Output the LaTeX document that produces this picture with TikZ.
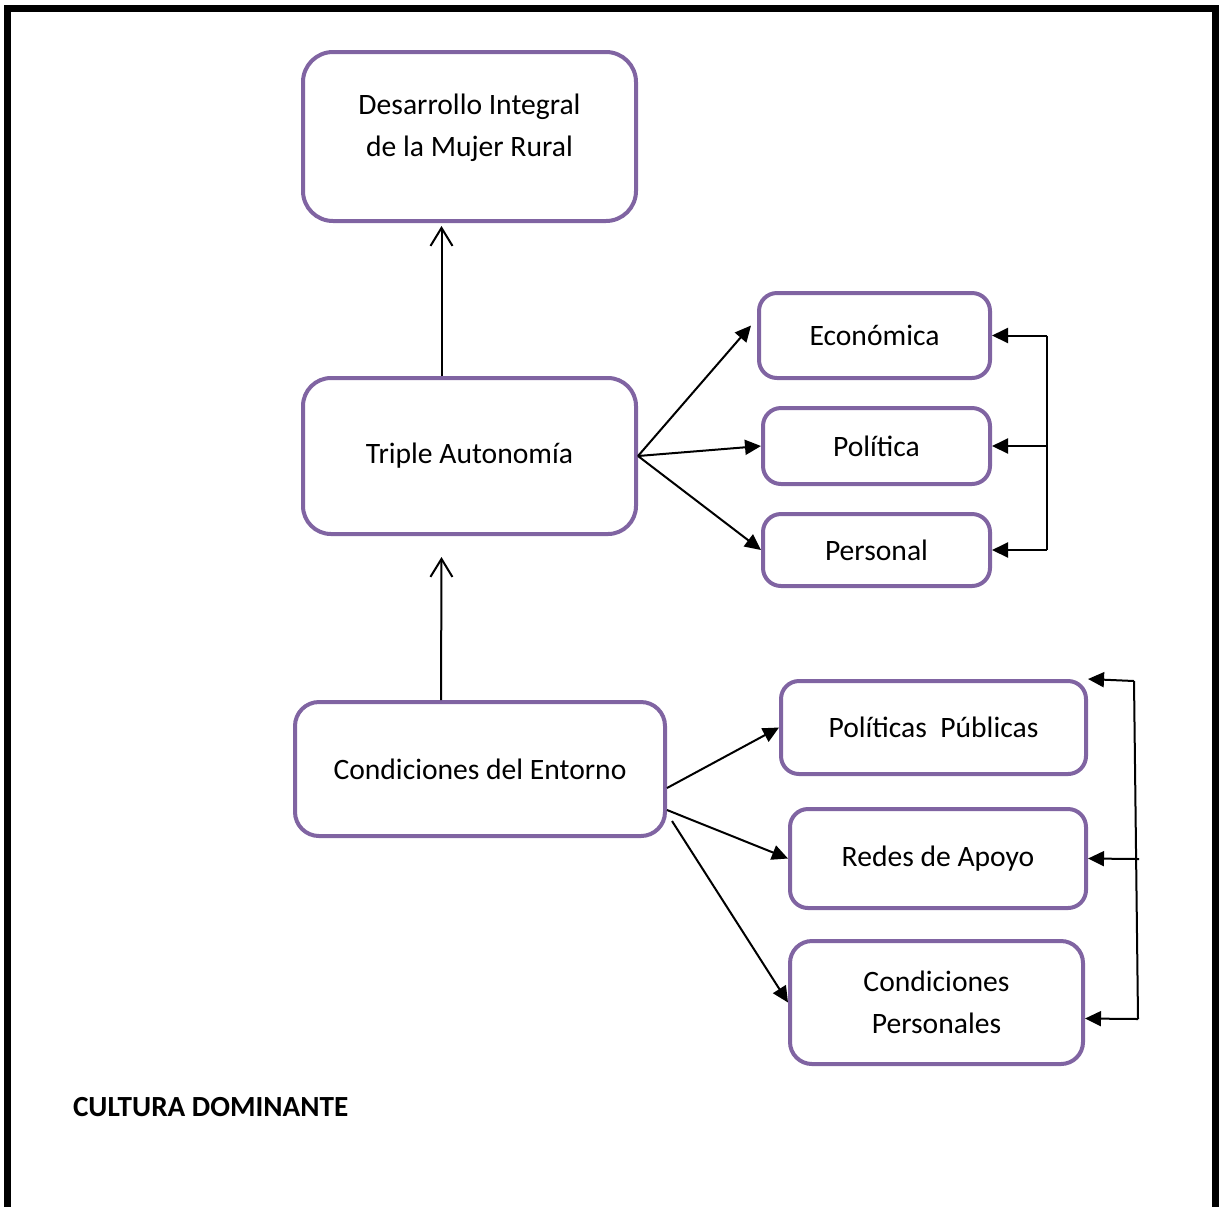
\documentclass[tikz,border=0pt]{standalone}
\usepackage{fontspec}
\setmainfont{Carlito}
\usetikzlibrary{arrows.meta}
\definecolor{boxpurple}{HTML}{8064A2}

\begin{document}
\begin{tikzpicture}[x=0.5pt,y=-0.5pt]
        \useasboundingbox (0,0) rectangle (1220,1206);
        \draw[line width=3.5pt] (7.5,1230) -- (7.5,8) -- (1215.5,8) -- (1215.5,1230);
        \begin{scope}
            \tikzstyle{every node}=[fill=white, draw=boxpurple, line width=2pt, rounded corners=9pt, align=center, inner sep=0pt, text=black, font=\fontsize{14.8}{21}\selectfont]
            \node[minimum width=166.5pt, minimum height=84.5pt, rounded corners=15pt, text depth=11pt] (0) at (469.5,136.5) {Desarrollo Integral\\de la Mujer Rural};
            \node[minimum width=166.5pt, minimum height=78pt, rounded corners=14pt] (1) at (469.5,456) {Triple Autonomía};
            \node[minimum width=185pt, minimum height=67pt, rounded corners=12pt] (2) at (480,769) {Condiciones del Entorno};
            \node[minimum width=115.5pt, minimum height=42.5pt] (3) at (874.5,335.5) {Económica};
            \node[minimum width=113.5pt, minimum height=38pt] (4) at (876.5,446) {Política};
            \node[minimum width=113.5pt, minimum height=36pt] (5) at (876.5,550) {Personal};
            \node[minimum width=152.5pt, minimum height=46.5pt] (6) at (933.5,727.5) {Políticas\ \ Públicas};
            \node[minimum width=148pt, minimum height=49.5pt] (7) at (938,858.5) {Redes de Apoyo};
            \node[minimum width=146.5pt, minimum height=61.5pt, rounded corners=11pt] (8) at (936.5,1002.5) {Condiciones\\Personales};
            \node[draw=none, fill=none, anchor=west, font=\fontsize{14.6}{16}\bfseries] (9) at (71,1107) {CULTURA DOMINANTE};
        \end{scope}
        \coordinate (a1) at (1047,335.5);
        \coordinate (a2) at (1047,446);
        \coordinate (a3) at (1047,550);
        \coordinate (b1) at (1134,681);
        \coordinate (b2) at (1139,859);
        \coordinate (b3) at (1138,1019);
        \begin{scope}
            \tikzstyle{every edge}=[draw, line width=1pt, -{Triangle[length=8pt,width=7.5pt]}]
            \path
            ([xshift=-14pt]1.north) edge[-{Straight Barb[length=9pt,width=11pt]}] ([xshift=-14pt,yshift=-1.5pt]0.south)
            ([xshift=-19.5pt]2.north) edge[-{Straight Barb[length=9pt,width=11pt]}] ([xshift=-14pt,yshift=-10.5pt]1.south)
            (1.east) edge ([xshift=-3pt,yshift=5pt]3.west)
            (1.east) edge (4.west)
            (1.east) edge (5.west)
            ([yshift=-9.5pt]2.east) edge (6.west)
            ([yshift=-20.5pt]2.east) edge (7.west)
            ([xshift=2.5pt,yshift=-26pt]2.east) edge (8.west)
            (a1) edge[-] (a3)
            (a1) edge (3.east)
            (a2) edge (4.east)
            (a3) edge (5.east)
            (b1) edge[-] (b3)
            (b1) edge (6.north east)
            (b2) edge (7.east)
            (b3) edge ([yshift=-8pt]8.east);
        \end{scope}
    \end{tikzpicture}
\end{document}
